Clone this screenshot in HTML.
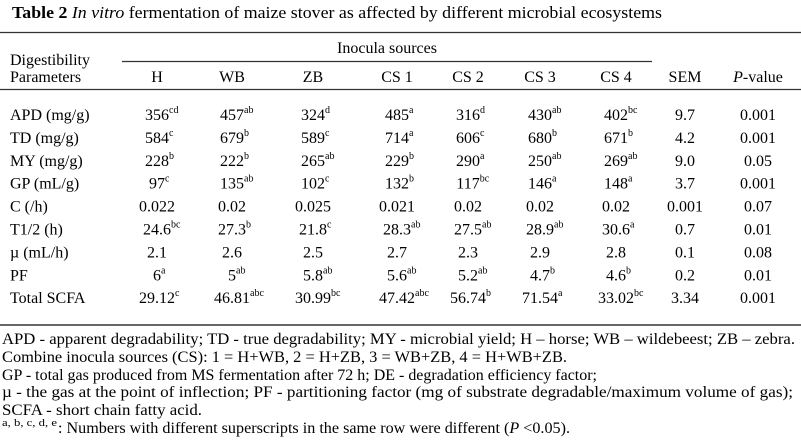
<!DOCTYPE html>
<html><head><meta charset="utf-8"><style>
html,body{margin:0;padding:0;background:#fff;}
svg{display:block;font-family:"Liberation Serif",serif;}
</style></head><body>
<svg width="801" height="440" viewBox="0 0 801 440">
<text x="12" y="18" font-size="16.5" textLength="650" lengthAdjust="spacingAndGlyphs"><tspan font-weight="bold">Table 2 </tspan><tspan font-style="italic">In vitro</tspan> fermentation of maize stover as affected by different microbial ecosystems</text>
<line x1="0" y1="32.5" x2="801" y2="32.5" stroke="#333" stroke-width="1.3"/>
<text x="387" y="53" font-size="16" text-anchor="middle">Inocula sources</text>
<line x1="122" y1="61.5" x2="652" y2="61.5" stroke="#333" stroke-width="1.2"/>
<text x="10" y="65" font-size="16">Digestibility</text>
<text x="10" y="82" font-size="16">Parameters</text>
<g id="hdr" font-size="16" text-anchor="middle"></g>
<line x1="0" y1="89.5" x2="801" y2="89.5" stroke="#333" stroke-width="1.3"/>
<g id="body" font-size="16"></g>
<line x1="0" y1="325" x2="801" y2="325" stroke="#333" stroke-width="1.5"/>
<g font-size="16">
<text x="2" y="344" textLength="793" lengthAdjust="spacingAndGlyphs">APD - apparent degradability; TD - true degradability; MY - microbial yield; H – horse; WB – wildebeest; ZB – zebra.</text>
<text x="2" y="362" textLength="565" lengthAdjust="spacingAndGlyphs">Combine inocula sources (CS): 1 = H+WB, 2 = H+ZB, 3 = WB+ZB, 4 = H+WB+ZB.</text>
<text x="2" y="380" textLength="595" lengthAdjust="spacingAndGlyphs">GP - total gas produced from MS fermentation after 72 h; DE - degradation efficiency factor;</text>
<text x="2" y="397" textLength="791" lengthAdjust="spacingAndGlyphs">µ - the gas at the point of inflection; PF - partitioning factor (mg of substrate degradable/maximum volume of gas);</text>
<text x="2" y="415" textLength="200" lengthAdjust="spacingAndGlyphs">SCFA - short chain fatty acid.</text>
<text x="2" y="426" font-size="10" textLength="55" lengthAdjust="spacingAndGlyphs">a, b, c, d, e</text>
<text x="58" y="433" textLength="512" lengthAdjust="spacingAndGlyphs">: Numbers with different superscripts in the same row were different (<tspan font-style="italic">P</tspan> &lt;0.05).</text>
</g>
</svg>
<script>
const NS="http://www.w3.org/2000/svg";
const colX=[157,232,313,397,468,540,616,685,758];
const headers=["H","WB","ZB","CS 1","CS 2","CS 3","CS 4","SEM","P-value"];
const rowLabels=["APD (mg/g)","TD (mg/g)","MY (mg/g)","GP (mL/g)","C (/h)","T1/2 (h)","µ (mL/h)","PF","Total SCFA"];
const rowVals=[
["356|cd","457|ab","324|d","485|a","316|d","430|ab","402|bc","9.7","0.001"],
["584| c","679|b","589|c","714|a","606|c","680|b","671|b","4.2","0.001"],
["228|b","222|b","265|ab","229|b","290|a","250|ab","269|ab","9.0","0.05"],
["97|c","135|ab","102|c","132|b","117|bc","146|a","148|a","3.7","0.001"],
["0.022","0.02","0.025","0.021","0.02","0.02","0.02","0.001","0.07"],
["24.6|bc","27.3|b","21.8|c","28.3|ab","27.5|ab","28.9|ab","30.6|a","0.7","0.01"],
["2.1","2.6","2.5","2.7","2.3","2.9","2.8","0.1","0.08"],
["6|a","5|ab","5.8|ab","5.6|ab","5.2|ab","4.7|b","4.6|b","0.2","0.01"],
["29.12|c","46.81|abc","30.99|bc","47.42|abc","56.74|b","71.54|a","33.02|bc","3.34","0.001"]
];
const hdr=document.getElementById('hdr');
headers.forEach((h,i)=>{
  const t=document.createElementNS(NS,'text');
  t.setAttribute('x',colX[i]);t.setAttribute('y',82);
  if(h==="P-value"){t.innerHTML='<tspan font-style="italic">P</tspan>-value';}else t.textContent=h;
  
  
  hdr.appendChild(t);
});
const body=document.getElementById('body');
rowLabels.forEach((lab,r)=>{
  const y=120+r*22.9;
  const t=document.createElementNS(NS,'text');
  t.setAttribute('x',10);t.setAttribute('y',y);t.textContent=lab;
  
  
  body.appendChild(t);
  rowVals[r].forEach((v,c)=>{
    const [num,sup]=v.split('|');
    const n=document.createElementNS(NS,'text');
    n.setAttribute('x',colX[c]);n.setAttribute('y',y);
    n.setAttribute('text-anchor','middle');n.textContent=num;
    
    
    body.appendChild(n);
    if(sup){
      const w=n.getComputedTextLength();
      const s=document.createElementNS(NS,'text');
      s.setAttribute('x',colX[c]+w/2);s.setAttribute('y',y-7);
      s.setAttribute('font-size','10');s.textContent=sup;
      
      
      body.appendChild(s);
    }
  });
});
</script>
</body></html>
